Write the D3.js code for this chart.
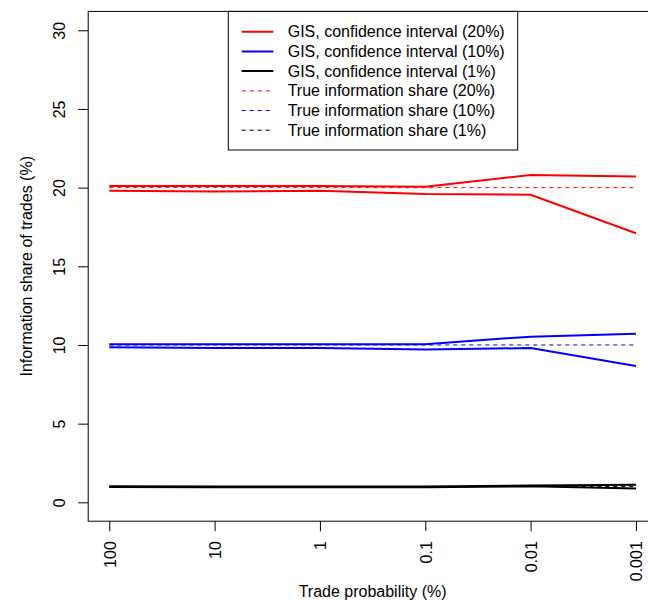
<!DOCTYPE html>
<html>
<head>
<meta charset="utf-8">
<script src="https://cdn.jsdelivr.net/npm/d3@7"></script>
<style>
  body { margin: 0; background: #fff; }
  text { font-family: "Liberation Sans", Arial, sans-serif; }
</style>
</head>
<body>
<div class="canvas"></div>
<script>
// trade probability categories (x axis)
const probLabels = ['100', '10', '1', '0.1', '0.01', '0.001'];

// confidence interval bounds
const ci20Upper = [20.1, 20.1, 20.1, 20.05, 20.8, 20.7];
const ci20Lower = [19.8, 19.75, 19.8, 19.6, 19.55, 17.1];
const ci10Upper = [10.05, 10.05, 10.05, 10.05, 10.53, 10.72];
const ci10Lower = [9.85, 9.8, 9.8, 9.72, 9.8, 8.67];
const ci1Upper = [1.02, 1.0, 1.0, 1.0, 1.07, 1.12];
const ci1Lower = [0.97, 0.95, 0.95, 0.95, 1.02, 0.88];

const trueShare = [20, 10, 1];
const yTicks = [0, 5, 10, 15, 20, 25, 30];

const legendLabels = [
  'GIS, confidence interval (20%)',
  'GIS, confidence interval (10%)',
  'GIS, confidence interval (1%)',
  'True information share (20%)',
  'True information share (10%)',
  'True information share (1%)'
];

const dims = {width: 648, height: 600};
const plot = {left: 88.2, right: 657, top: 11.4, bottom: 521.2};

const svg = d3.select('.canvas')
  .append('svg')
  .attr('width', dims.width)
  .attr('height', dims.height)

// R style: 4% padding on each side of the data range
const x = d3.scaleLinear()
  .domain([0.8, 6.2])
  .range([plot.left, plot.right])

const y = d3.scaleLinear()
  .domain([-1.2, 31.2])
  .range([plot.bottom, plot.top])

const idx = probLabels.map((d, i) => i + 1)

// series
const series = [
  {vals: ci20Upper, color: 'red'},
  {vals: ci20Lower, color: 'red'},
  {vals: ci10Upper, color: '#0000ff'},
  {vals: ci10Lower, color: '#0000ff'},
  {vals: ci1Upper, color: 'black'},
  {vals: ci1Lower, color: 'black'}
]

const line = d3.line()
  .x((d, i) => x(idx[i]))
  .y(d => y(d))

svg.append('g').selectAll('path')
  .data(series)
  .enter()
  .append('path')
  .attr('d', d => line(d.vals))
  .attr('fill', 'none')
  .attr('stroke', d => d.color)
  .attr('stroke-width', 2)

const trueColors = ['red', '#0000ff', 'black']

svg.append('g').selectAll('line')
  .data(trueShare)
  .enter()
  .append('line')
  .attr('x1', x(1))
  .attr('x2', x(6))
  .attr('y1', d => y(d))
  .attr('y2', d => y(d))
  .attr('stroke', (d, i) => trueColors[i])
  .attr('stroke-width', 1)
  .attr('stroke-dasharray', '4,4')

// plot box
svg.append('rect')
  .attr('x', plot.left)
  .attr('y', plot.top)
  .attr('width', plot.right - plot.left)
  .attr('height', plot.bottom - plot.top)
  .attr('fill', 'none')
  .attr('stroke', 'black')

// y axis
const yAxis = d3.axisLeft(y)
  .tickValues(yTicks)
  .tickSize(10)
  .tickFormat(d3.format('d'))

const yG = svg.append('g')
  .attr('transform', `translate(${plot.left}, 0)`)
  .call(yAxis)

yG.select('.domain').remove()
yG.selectAll('line').attr('stroke', 'black')
yG.selectAll('text')
  .attr('x', null).attr('dy', null)
  .attr('transform', 'translate(-23, 0) rotate(-90)')
  .attr('text-anchor', 'middle')
  .attr('font-size', 16)
  .attr('font-family', '"Liberation Sans", Arial, sans-serif')
  .attr('fill', 'black')

// x axis
const xAxis = d3.axisBottom(x)
  .tickValues(idx)
  .tickSize(10)
  .tickFormat((d, i) => probLabels[i])

const xG = svg.append('g')
  .attr('transform', `translate(0, ${plot.bottom})`)
  .call(xAxis)

xG.select('.domain').remove()
xG.selectAll('line').attr('stroke', 'black')
xG.selectAll('text')
  .attr('y', null).attr('dy', null)
  .attr('transform', 'translate(5.8, 20) rotate(-90)')
  .attr('text-anchor', 'end')
  .attr('font-size', 16)
  .attr('font-family', '"Liberation Sans", Arial, sans-serif')
  .attr('fill', 'black')

// axis titles
svg.append('text')
  .attr('x', (plot.left + plot.right) / 2)
  .attr('y', 597)
  .attr('text-anchor', 'middle')
  .attr('font-size', 16)
  .text('Trade probability (%)')

svg.append('text')
  .attr('transform', `translate(32, ${(plot.top + plot.bottom) / 2}) rotate(-90)`)
  .attr('text-anchor', 'middle')
  .attr('font-size', 16)
  .text('Information share of trades (%)')

// legend
const legendG = svg.append('g')

legendG.append('rect')
  .attr('x', 228.3)
  .attr('y', plot.top)
  .attr('width', 289.4)
  .attr('height', 150 - plot.top)
  .attr('fill', 'white')
  .attr('stroke', 'black')

const legendColors = ['red', '#0000ff', 'black', 'red', '#0000ff', 'black']

const rows = legendG.selectAll('g.row')
  .data(legendLabels)
  .enter()
  .append('g')
  .attr('class', 'row')
  .attr('transform', (d, i) => `translate(0, ${31.7 + i * 19.7})`)

rows.append('line')
  .attr('x1', 241.7)
  .attr('x2', 273.3)
  .attr('stroke', (d, i) => legendColors[i])
  .attr('stroke-width', (d, i) => i < 3 ? 2 : 1)
  .attr('stroke-dasharray', (d, i) => i < 3 ? null : '4,4')

rows.append('text')
  .attr('x', 287.7)
  .attr('dy', '0.35em')
  .attr('font-size', 16)
  .text(d => d)
</script>
</body>
</html>
